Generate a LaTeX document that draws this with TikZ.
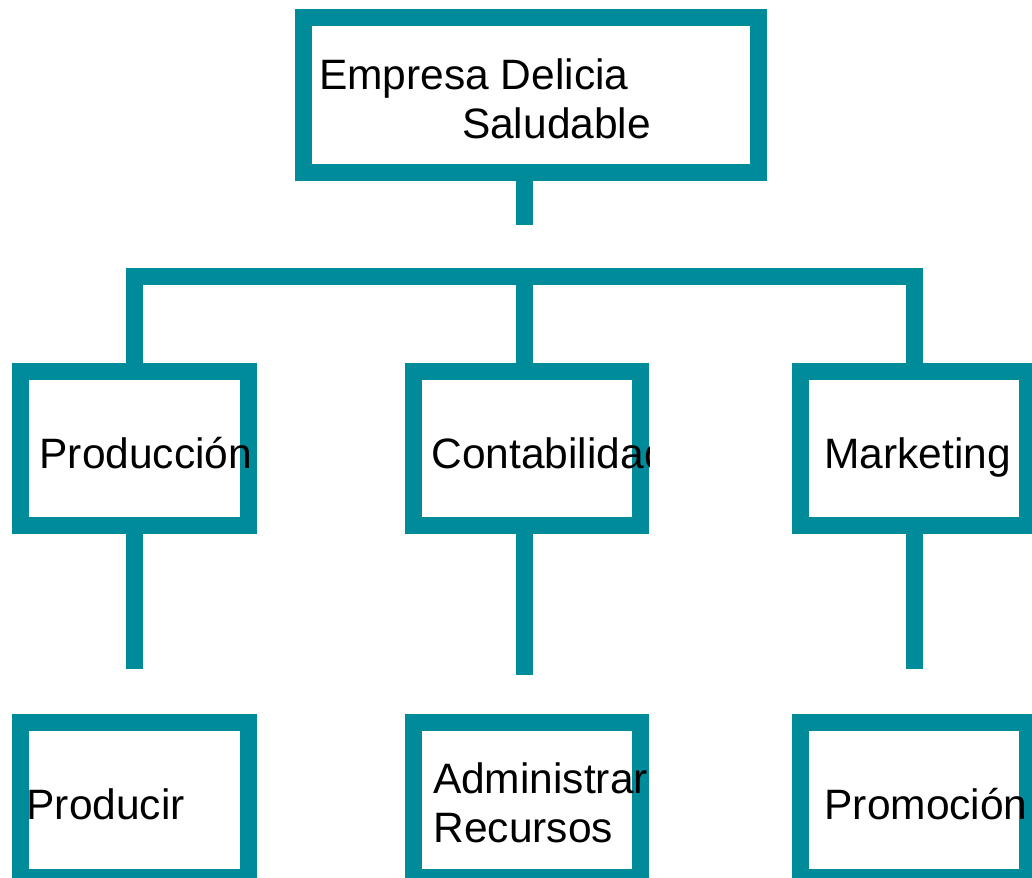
\documentclass[tikz,border=0pt]{standalone}
\usepackage{fontspec}
\setmainfont{Liberation Sans}
\definecolor{tealbox}{RGB}{0,139,155}
\begin{document}
\begin{tikzpicture}[x=1pt,y=-1pt,
  box/.style={rectangle,draw=tealbox,line width=17pt,inner sep=0pt,outer sep=0pt},
  conn/.style={draw=tealbox,line width=17pt,line cap=butt,line join=miter},
  lbl/.style={anchor=base west,inner sep=0pt,outer sep=0pt,font=\fontsize{42.5}{49}\selectfont}]
\useasboundingbox (0,0) rectangle (1032,877);
\begin{scope}
\clip (0,0) rectangle (1032,877);
% boxes
\node[box,minimum width=454.5pt,minimum height=155pt] (top) at (531,95) {};
\node[box,minimum width=227.5pt,minimum height=154.5pt] (prod) at (134.25,448.25) {};
\node[box,minimum width=227.5pt,minimum height=154.5pt] (cont) at (526.75,448.25) {};
\node[box,minimum width=227.5pt,minimum height=154.5pt] (mkt) at (914,448.25) {};
\node[box,minimum width=227.5pt,minimum height=155pt] (producir) at (134.25,799.5) {};
\node[box,minimum width=227.5pt,minimum height=155pt] (admin) at (526.75,799.5) {};
\node[box,minimum width=227.5pt,minimum height=155pt] (promo) at (914,799.5) {};
% connectors
\coordinate (stubT) at (524,225.5);
\coordinate (busL) at (134,276.5);
\coordinate (busM) at (524,276.5);
\coordinate (busR) at (914,276.5);
\coordinate (endL) at (134,669);
\coordinate (endM) at (524,675);
\coordinate (endR) at (914,669);
\draw[conn] (top.south -| stubT) -- (stubT);
\draw[conn] (prod.north -| busL) -- (busL) -- (busR) -- (mkt.north -| busR);
\draw[conn] (busM) -- (cont.north -| busM);
\draw[conn] (prod.south -| endL) -- (endL);
\draw[conn] (cont.south -| endM) -- (endM);
\draw[conn] (mkt.south -| endR) -- (endR);
% texts
\node[lbl] (t1) at (319,90) {Empresa Delicia};
\node[lbl] (t2) at (462,139) {Saludable};
\node[lbl] (t3) at (39.5,468) {Producción};
\node[lbl] (t5) at (824.5,468) {Marketing};
\node[lbl] (t6) at (26.5,819) {Producir};
\node[lbl] (t7) at (433,793) {Administrar};
\node[lbl] (t8) at (433.5,842) {Recursos};
\node[lbl] (t9) at (824.5,819) {Promoción};
\end{scope}
\begin{scope}
\clip ([xshift=-8.5pt,yshift=8.5pt]cont.north west) rectangle ([xshift=8.5pt,yshift=-8.5pt]cont.south east);
\node[lbl] (t4) at (431.5,468) {Contabilidad};
\end{scope}
\end{tikzpicture}
\end{document}
